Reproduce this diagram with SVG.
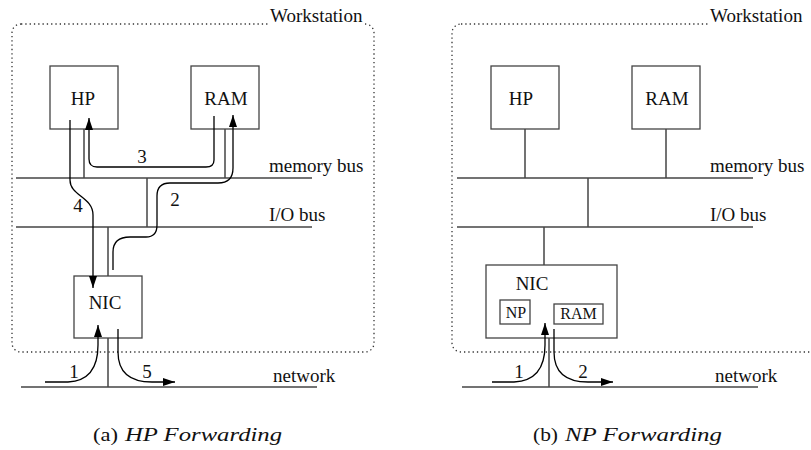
<svg xmlns="http://www.w3.org/2000/svg" width="811" height="450" viewBox="0 0 811 450">
<defs>
<marker id="ah" viewBox="0 0 12 8" refX="12" refY="4" markerWidth="12" markerHeight="8" markerUnits="userSpaceOnUse" orient="auto">
<path d="M0,0 L12,4 L0,8 Z" fill="#000"/>
</marker>
</defs>
<style>
.ws{fill:none;stroke:#333;stroke-width:1.3;stroke-dasharray:1.3 3}
.box{fill:#fff;stroke:#444;stroke-width:1.3}
.bus{fill:none;stroke:#444;stroke-width:1.5}
.arr{fill:none;stroke:#000;stroke-width:1.3;marker-end:url(#ah)}
text{font-family:'Liberation Serif','Tinos','Times New Roman','DejaVu Serif',serif;fill:#111}
.t{font-size:19px}
.ts{font-size:16px}
.cap{font-size:19px}
.mid{text-anchor:middle}
</style>
<rect width="811" height="450" fill="#fff"/>

<!-- Left panel -->
<g id="left-workstation">
<rect class="ws" x="12" y="24" width="362" height="328" rx="9"/>
<rect x="268" y="12" width="96" height="15" fill="#fff"/>
<text class="t" x="270" y="22" font-family="Liberation Serif, serif">Workstation</text>
</g>
<g id="left-buses">
<line class="bus" x1="16" y1="178" x2="312" y2="178"/>
<text class="t" x="269" y="172">memory bus</text>
<line class="bus" x1="16" y1="227" x2="312" y2="227"/>
<text class="t" x="269" y="221">I/O bus</text>
<line class="bus" x1="21" y1="387" x2="317" y2="387"/>
<text class="t" x="273" y="382">network</text>
<line class="bus" x1="84" y1="129" x2="84" y2="178"/>
<line class="bus" x1="225" y1="129" x2="225" y2="178"/>
<line class="bus" x1="147" y1="178" x2="147" y2="227"/>
<line class="bus" x1="108" y1="227" x2="108" y2="276"/>
<line class="bus" x1="108" y1="338" x2="108" y2="387"/>
</g>
<g id="left-hp">
<rect class="box" x="50" y="66" width="68" height="63"/>
<text class="t mid" x="83" y="105">HP</text>
</g>
<g id="left-ram">
<rect class="box" x="191" y="66" width="68" height="63"/>
<text class="t mid" x="226" y="105">RAM</text>
</g>
<g id="left-nic">
<rect class="box" x="74" y="276" width="68" height="62"/>
<text class="t mid" x="105" y="309">NIC</text>
</g>
<g id="left-connectors">
<path class="arr" d="M214,116 L214,160 C214,165 211,167 206,167 L97,167 C92,167 89,164 89,159 L89,118"/>
<path class="arr" d="M70,120 L70,180 C70,196 93,197 93,215 L93,288"/>
<path class="arr" d="M113,270 L113,252 C113,241 119,237 130,237 L146,237 C153,237 157,233 157,225 L157,196 C157,187 161,183 170,183 L218,183 C228,183 233,178 233,168 L233,115"/>
<path class="arr" d="M45,382 L68,382 C89,381 98,368 98,345 L98,325"/>
<path class="arr" d="M118,329 L118,352 C118,373 130,382 152,382 L175,382"/>
<text class="t mid" x="142" y="163">3</text>
<text class="t mid" x="78" y="212">4</text>
<text class="t mid" x="175" y="206">2</text>
<text class="t mid" x="74" y="378">1</text>
<text class="t mid" x="147" y="378">5</text>
</g>

<!-- Right panel -->
<g id="right-workstation">
<rect class="ws" x="452" y="24" width="380" height="328" rx="9"/>
<rect x="708" y="12" width="103" height="15" fill="#fff"/>
<text class="t" x="710" y="22">Workstation</text>
</g>
<g id="right-buses">
<line class="bus" x1="457" y1="178" x2="753" y2="178"/>
<text class="t" x="710" y="172">memory bus</text>
<line class="bus" x1="457" y1="227" x2="753" y2="227"/>
<text class="t" x="710" y="221">I/O bus</text>
<line class="bus" x1="462" y1="387" x2="758" y2="387"/>
<text class="t" x="715" y="382">network</text>
<line class="bus" x1="525" y1="129" x2="525" y2="178"/>
<line class="bus" x1="666" y1="129" x2="666" y2="178"/>
<line class="bus" x1="588" y1="178" x2="588" y2="227"/>
<line class="bus" x1="544" y1="227" x2="544" y2="265"/>
<line class="bus" x1="549" y1="338" x2="549" y2="387"/>
</g>
<g id="right-hp">
<rect class="box" x="491" y="66" width="68" height="63"/>
<text class="t mid" x="521" y="105">HP</text>
</g>
<g id="right-ram">
<rect class="box" x="632" y="66" width="68" height="63"/>
<text class="t mid" x="667" y="105">RAM</text>
</g>
<g id="right-nic">
<rect class="box" x="486" y="265" width="131" height="73"/>
<text class="t mid" x="532" y="290">NIC</text>
</g>
<g id="right-np">
<rect class="box" x="500" y="300" width="30" height="24"/>
<text class="ts mid" x="516" y="318">NP</text>
</g>
<g id="right-nic-ram">
<rect class="box" x="554" y="304" width="49" height="20"/>
<text class="ts mid" x="578.5" y="319">RAM</text>
</g>
<g id="right-connectors">
<path class="arr" d="M492,382 L514,382 C536,381 545,368 545,345 L545,323"/>
<path class="arr" d="M554,329 L554,352 C554,373 566,382 588,382 L613,382"/>
<text class="t mid" x="519" y="378">1</text>
<text class="t mid" x="583" y="378">2</text>
</g>

<!-- Captions -->
<text class="cap" x="93" y="441" textLength="25" lengthAdjust="spacingAndGlyphs">(a)</text>
<text class="cap" x="125" y="441" font-style="italic" textLength="157" lengthAdjust="spacingAndGlyphs">HP Forwarding</text>
<text class="cap" x="533" y="441" textLength="25" lengthAdjust="spacingAndGlyphs">(b)</text>
<text class="cap" x="565" y="441" font-style="italic" textLength="157" lengthAdjust="spacingAndGlyphs">NP Forwarding</text>
</svg>
